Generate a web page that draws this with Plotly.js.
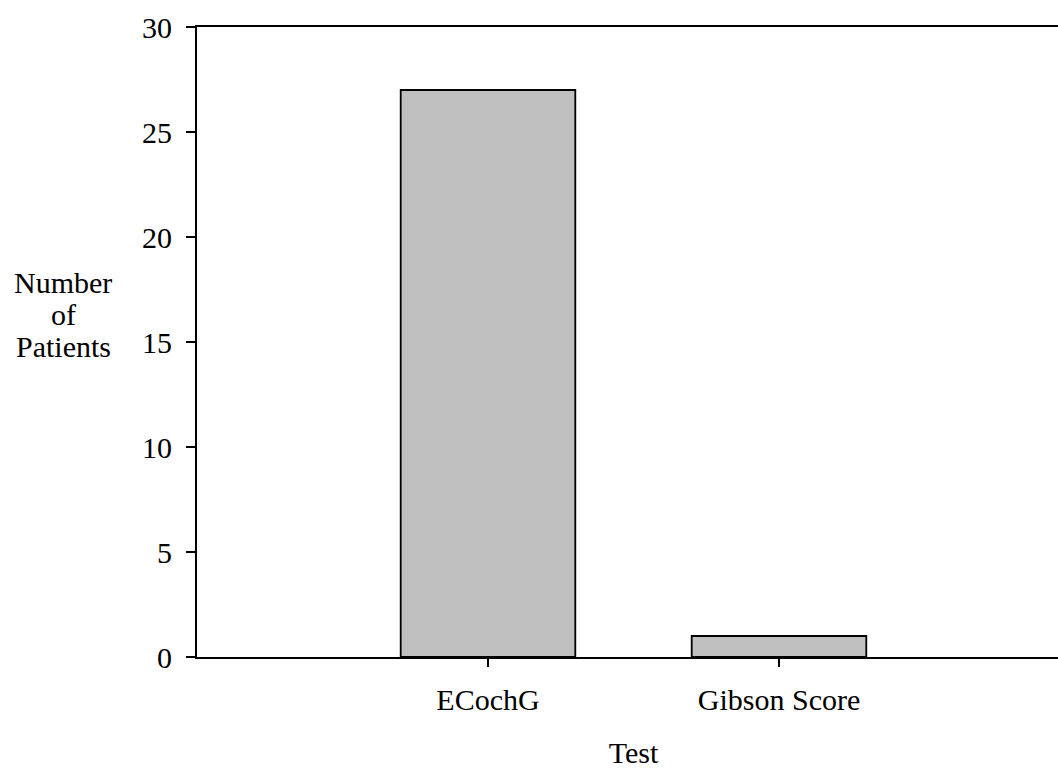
<!DOCTYPE html>
<html>
<head>
<meta charset="utf-8">
<script src="https://cdn.plot.ly/plotly-3.0.1.min.js"></script>
<style>
  html, body { margin: 0; padding: 0; overflow: hidden; background: #fff; }
  #chart { width: 1070px; height: 769px; }
</style>
</head>
<body>
<div id="chart"></div>
<script>
// Patients identified by each test
const tests = ["ECochG", "Gibson Score"];
const patientCounts = [27, 1];
const yTickValues = [0, 5, 10, 15, 20, 25, 30];
const yTitleLines = ["Number", "of", "Patients"];
const xTitle = "Test";

const serif = "Liberation Serif";
const fontSize = 30;

const trace = {
  type: "bar",
  x: tests,
  y: patientCounts,
  width: 0.6,
  marker: { color: "#c0c0c0", line: { color: "#000", width: 1.8 } },
  hoverinfo: "x+y"
};

// stacked y-axis title, one annotation per line
const lineGap = 32 / 630;
const titleAnnotations = yTitleLines.map((line, i) => ({
  text: line,
  xref: "paper", yref: "paper",
  x: (63 - 197) / 873,
  y: (657 - 282) / 630 - i * lineGap,
  xanchor: "center", yanchor: "middle",
  showarrow: false,
  font: { family: serif, size: fontSize, color: "#000" }
}));

const layout = {
  width: 1070,
  height: 769,
  margin: { l: 197, r: 0, t: 27, b: 112, pad: 0 },
  paper_bgcolor: "#fff",
  plot_bgcolor: "#fff",
  showlegend: false,
  font: { family: serif, size: fontSize, color: "#000" },
  xaxis: {
    type: "category",
    range: [-1, 2],
    showgrid: false,
    zeroline: false,
    showline: true,
    linecolor: "#000",
    linewidth: 2,
    mirror: true,
    ticks: "outside",
    ticklen: 8,
    tickwidth: 1.5,
    tickcolor: "#000",
    ticklabelstandoff: 7,
    tickfont: { family: serif, size: fontSize, color: "#000" },
    title: { text: xTitle, standoff: 28, font: { family: serif, size: fontSize, color: "#000" } }
  },
  yaxis: {
    range: [0, 30],
    tickvals: yTickValues,
    showgrid: false,
    zeroline: false,
    showline: true,
    linecolor: "#000",
    linewidth: 2,
    ticks: "outside",
    ticklen: 9,
    tickwidth: 1.5,
    tickcolor: "#000",
    ticklabelstandoff: 8,
    tickfont: { family: serif, size: fontSize, color: "#000" }
  },
  annotations: titleAnnotations
};

Plotly.newPlot("chart", [trace], layout, { displayModeBar: false, staticPlot: true });
</script>
</body>
</html>
